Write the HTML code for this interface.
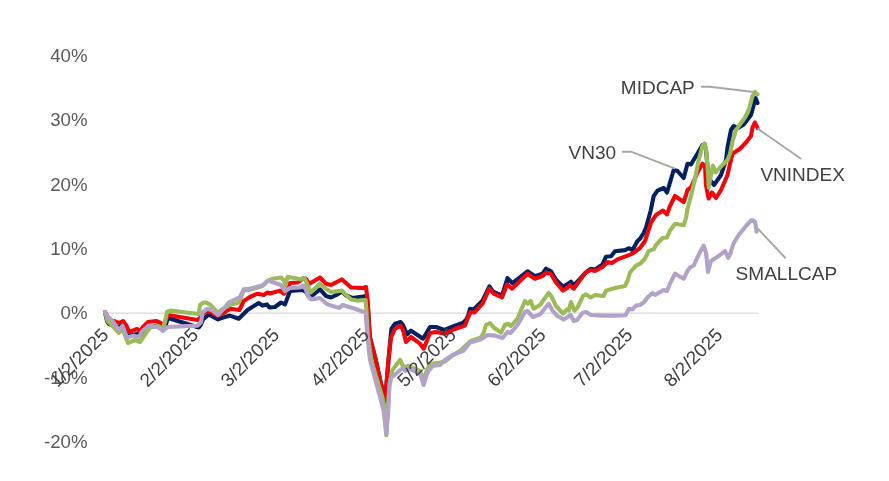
<!DOCTYPE html>
<html><head><meta charset="utf-8"><title>Chart</title>
<style>
html,body{margin:0;padding:0;background:#fff;}
body{width:889px;height:481px;overflow:hidden;}
svg{display:block;}
text{font-family:"Liberation Sans",Arial,sans-serif;font-size:18.9px;}
.s{fill:none;stroke-width:4.1;stroke-linejoin:round;stroke-linecap:round;}
.y{fill:#595959;text-anchor:end;font-size:18.67px;}
.x{fill:#404040;text-anchor:end;}
.l{fill:#404040;font-size:19.05px;}
.ld{fill:none;stroke:#A6A6A6;stroke-width:1.9;}
</style></head><body>
<svg width="889" height="481" viewBox="0 0 889 481">
<rect width="889" height="481" fill="#ffffff"/>
<line x1="104" y1="313.2" x2="758" y2="313.2" stroke="#D9D9D9" stroke-width="1.2"/>
<text class="y" x="87.5" y="61.9">40%</text>
<text class="y" x="87.5" y="126.2">30%</text>
<text class="y" x="87.5" y="190.6">20%</text>
<text class="y" x="87.5" y="254.9">10%</text>
<text class="y" x="87.5" y="319.2">0%</text>
<text class="y" x="87.5" y="383.5">-10%</text>
<text class="y" x="87.5" y="447.9">-20%</text>
<polyline class="s" stroke="#002060" points="105,312 107,321 109,324 113,325.5 118.7,327 122,325.5 126,333 130,335.6 137.5,334 140,335.5 143,332 148,327.5 156,326 160.6,328 163,330.5 165,327 168,318 187.5,324 198.7,327.5 201,324.5 203,319.5 208.7,314.4 218,319.4 223,317.5 230,315.6 238.7,318.7 247.5,310 258.7,303 262.5,305.6 267,304.4 269.4,307.5 275,307 281,302.5 285,304.4 290,291 302.5,290 306,292 309,297 313,295 320,289.4 326,296 331,297.5 337.5,294.4 342,291.5 346,295.5 352.5,298 363,296.5 366,296 367.3,300 367.8,305 369.8,337 375.3,358 385,401.5 388.5,360 390.5,338 391.5,328.7 395,323.7 400.6,322 403,325 407,334.4 411,330.6 423,338.7 430,327 436,327 444.4,330 455,325.6 462.5,323 466,320 468,316 470,308.7 473.7,309.4 482.5,300.7 489.4,286.3 493,291.7 502,295.7 507.5,278.2 512.5,283.2 527.5,271.3 535,276.3 542.5,273.7 546,268.7 551,271.3 556,279.7 563,286.7 567,284.4 571,281.7 573.7,285.7 585.6,272.7 591,268.7 595,269.7 602.5,264.4 606,256.7 611,256.3 615,251.3 625,250.1 628.7,248.2 632.5,250.1 637.5,241 640,238.7 643.7,233 646,227.5 650.6,211 653.7,196 657.5,190.6 663.7,188 667,192.5 670,182.5 673.7,170 677.5,171 683.7,178 687.5,163.7 691,164.4 696,156 702.5,145 704.5,144 706,150 708,172 710,180 714,185 721,175 726,160 727.5,147.5 730,135 731,130 733.7,126 738,128 743.7,124.5 751,115 753.7,105 755.6,98 757.5,103"/>
<polyline class="s" stroke="#F0050A" points="105,312 108,317.3 112,320.8 113.7,321 118.7,323 123,321 126,325 129.4,332 137,329 140,331 143,327 148,322 156,321 160.6,323 162.5,326 165,322 168,315 197.5,320 201,317 203.7,313 208.7,311 217.5,315.6 223.7,313 230,308.7 239.4,310 243.7,301 250,297 257.5,293.7 263.7,295 267.5,292.5 270,293.5 280,290.6 283.7,293.7 287.5,290 290,283 297.5,282.5 303.7,278 306,279 309.4,283.7 320,277.5 326,283.7 331,285 342,279.4 346,283 351,287.5 363,288 366,287 367.3,297.5 367.8,303 369.8,337 375.3,358 385,402.5 388.5,360 391,337.5 395,328.7 400.6,325.6 403,330 406,342 411,337 420,343.7 423.7,348.7 430,333 436,332 445,333.7 455,329 465,325.6 468,317.5 470.6,312 474.4,312.5 482.5,303.7 489.4,288.7 493.7,293.7 502,297.5 507,284.4 512,288.7 527.5,273.7 535,278.7 542.5,276 546,272.5 551,274 556,282.5 563,290.6 567,288 570,285 573.7,288.7 585.6,272.5 591,270 595,271 602.5,267 607.5,262 612,263 617.5,259.4 627.5,255.6 632.5,253.7 640,248 645,241 651,222.5 656,215 663,210.6 667,214.4 670,206 675,196 683.7,202 686,195 687.5,190 691,187.5 697.5,172.5 702.5,163.7 705,166 706,185 707.5,193 708.7,198.5 712,192.5 716,198 721,190 727.5,175 730,163.7 732.5,153.7 740,148.7 746,142.5 751,136 752.5,127.5 755,122.5 757.5,128"/>
<polyline class="s" stroke="#9BBB59" points="105,312 107.5,321 112,325.5 118.7,333 122.5,329 128,343 135,340 140,342 144,336 150,327.5 158,326 162.5,329 165,322 167,312 170.6,310.6 198.7,314 200,305 203.7,302.5 205.6,302.5 210,304.4 218,313 222,309.4 230,305 238.7,302.5 242,295 243.7,290.5 250,289.7 262.5,286 267.5,281 272.5,278.7 281,277.5 284.4,281 285.6,285.6 287.5,277 295,278 300,279.4 304.4,278 307,283.7 310.6,292.5 320,283.7 326,288.7 331,292 342,290.6 346,295 351,299.4 357.5,300.6 365.6,300 366.5,312 368,337 371.5,361 382.3,397 385,410 386.3,435.3 387.8,410 389.3,385 392.5,370 400,360 403.7,367.5 408,366 420,371 423.7,380 427,370 430,364 440,362.5 445,361.5 452.5,355.5 461,350.3 470,341.5 481,337.3 483.5,333 486,325 490,323 493.7,327.5 501,332.5 505,325 508,323.7 511,326 517.5,318.7 521,310 525,301 528,303.7 530.6,301 533.7,308.7 540,305 545,298 548.7,293 551,295.6 556,306 563,313.7 567,309.4 568.7,310.6 571,302 574.4,310.6 577.5,307.5 583,296 586,294.4 590.6,297.5 595,295 603.7,296 606,290.6 615,288 625,286 627.5,281 630,272.5 636,265.6 640,263.7 645,258.7 648.7,251 653.7,249.4 656,245 662.5,238 667,237.5 670,230.5 675,223.7 683.7,225.3 686,218 687.5,208.7 691,196 695,178.7 698.7,160 702.5,146 704.4,143.7 706,148.7 708,172.5 708.7,187.5 711,175 713,165.6 715.6,172.5 720,167.5 727.5,160 730,153.7 732.5,141.5 736,130 745,117.5 748.7,110 752.5,96 755,92 757.5,94.4"/>
<polyline class="s" stroke="#B3A2C7" points="105,312 108,317 112.5,321 118.7,330 122.5,326 127,337.5 133.7,335.6 138.7,337 142.5,331 148.7,325.6 158.7,327.5 163,331 167.5,327 197.5,325.6 201,322.5 202.5,312.5 207.5,308.7 212.5,310.6 218,315 223.7,308.7 228.7,302.5 240,297 243.7,289.4 250,288.7 262.5,285.6 267.5,280.6 273.7,282.5 281,285 285,291 290,288 300,287.5 303.7,285.6 306,290 308,296 311,299.4 320,298 327.5,304.4 339.4,308 342.5,305 352.5,308 365.6,312.5 367.5,337.5 370,360 383.5,410 386.2,434 388.3,410 389.5,385 391,378 396,373.7 402.5,368 405,371 408.7,368.7 420,373.7 423.7,385 427.5,372.5 432.5,366 440,365 445,360 452.5,355 463.7,350.6 470,342.5 481,339.4 487.5,335 495,335.6 502.5,338 507.5,332 510.6,333 517.5,325 525,312 527.5,311 533,317 540,314.4 545.6,307.5 548.7,303.7 552.5,310.6 557.5,316 563.7,319.4 570.6,315 573.7,321 577,320 582.5,313 586,312 591,315 602.5,315.6 615,315.6 625.5,315.3 629,308.7 632.5,309.4 636,305.6 640,305 643.7,302.5 647.5,297.5 652.5,293 655,295 663.7,290 667,291 670,283.7 675,273.7 683.7,278.7 688,270 690,267.5 693.7,265.5 700,252 703.7,245.6 706,253 708,272 711,261 718.7,256 725,251 728.3,258 730.5,253 733.5,243.5 739,234.5 746,226 751.6,220 755,221.6 756.6,231.6"/>
<text class="x" transform="translate(109.6,336.1) rotate(-45)">1/2/2025</text>
<text class="x" transform="translate(199.4,336.1) rotate(-45)">2/2/2025</text>
<text class="x" transform="translate(280.5,336.1) rotate(-45)">3/2/2025</text>
<text class="x" transform="translate(370.2,336.1) rotate(-45)">4/2/2025</text>
<text class="x" transform="translate(457.1,336.1) rotate(-45)">5/2/2025</text>
<text class="x" transform="translate(546.9,336.1) rotate(-45)">6/2/2025</text>
<text class="x" transform="translate(633.8,336.1) rotate(-45)">7/2/2025</text>
<text class="x" transform="translate(723.6,336.1) rotate(-45)">8/2/2025</text>
<polyline class="ld" points="701,86.7 710,86.7 753.7,92"/>
<polyline class="ld" points="622,151.7 631,151.7 675,168.7"/>
<line class="ld" x1="757.4" y1="128.4" x2="801.3" y2="159"/>
<line class="ld" x1="757.5" y1="228.3" x2="785.7" y2="258.3"/>
<text class="l" x="620.8" y="93.7">MIDCAP</text>
<text class="l" x="568.5" y="159.1">VN30</text>
<text class="l" x="760.4" y="180.8">VNINDEX</text>
<text class="l" x="735.6" y="279.8">SMALLCAP</text>
</svg>
</body></html>
